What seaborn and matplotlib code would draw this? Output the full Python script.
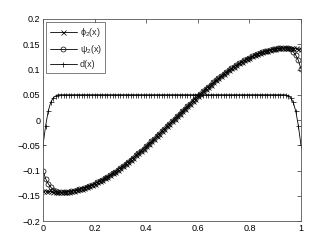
import numpy as np
import matplotlib
matplotlib.use("Agg")
import matplotlib.pyplot as plt
import seaborn as sns

# ---- data ----
x = np.round(np.arange(101) * 0.01, 2)

phi_left = [-0.140, -0.1405, -0.141, -0.1415, -0.142, -0.1425]
mid = [-0.1430, -0.1429, -0.1426, -0.1422, -0.1416, -0.1408, -0.1398, -0.1387, -0.1373, -0.1358,
       -0.1342, -0.1324, -0.1304, -0.1282, -0.1259, -0.1234, -0.1208, -0.1180, -0.1151, -0.1120,
       -0.1088, -0.1055, -0.1020, -0.0984, -0.0947, -0.0908, -0.0869, -0.0828, -0.0786, -0.0744,
       -0.0701, -0.0656, -0.0611, -0.0565, -0.0518, -0.0471, -0.0423, -0.0375, -0.0326, -0.0276,
       -0.0227, -0.0177, -0.0127, -0.0076, -0.0026, 0.0025, 0.0076, 0.0127, 0.0177, 0.0227,
       0.0276, 0.0326, 0.0375, 0.0423, 0.0471, 0.0518, 0.0565, 0.0611, 0.0656, 0.0701,
       0.0744, 0.0786, 0.0828, 0.0869, 0.0908, 0.0947, 0.0984, 0.1020, 0.1055, 0.1088,
       0.1120, 0.1151, 0.1180, 0.1208, 0.1234, 0.1259, 0.1282, 0.1304, 0.1324, 0.1342,
       0.1358, 0.1373, 0.1387, 0.1398, 0.1408, 0.1416, 0.1422, 0.1426, 0.1429, 0.1430]
phi_right = [0.1428, 0.1424, 0.1418, 0.1410, 0.1400]
phi = phi_left + mid + phi_right

psi_left = [-0.100, -0.116, -0.126, -0.133, -0.138, -0.141]
psi_right = [0.1410, 0.135, 0.128, 0.118, 0.101]
psi = psi_left + mid + psi_right

d_left = [-0.05, -0.012, 0.017, 0.035, 0.044, 0.048]
d_flat = [0.05] * 89
d_right = [0.048, 0.044, 0.035, 0.017, -0.012, -0.05]
d = d_left + d_flat + d_right

labels = ["ϕ$_2$(x)", "ψ$_2$(x)", "d(x)"]
xticks = [0, 0.2, 0.4, 0.6, 0.8, 1]
xticklabels = ["0", "0.2", "0.4", "0.6", "0.8", "1"]
yticks = [-0.2, -0.15, -0.1, -0.05, 0, 0.05, 0.1, 0.15, 0.2]
yticklabels = ["\u22120.2", "\u22120.15", "\u22120.1", "\u22120.05", "0", "0.05", "0.1", "0.15", "0.2"]

# ---- style ----
sns.set_style("white")
plt.rcParams['font.family'] = ['Liberation Sans', 'DejaVu Sans']
plt.rcParams['mathtext.fontset'] = 'custom'
plt.rcParams['mathtext.rm'] = 'Liberation Sans'
plt.rcParams['mathtext.it'] = 'Liberation Sans'

fig = plt.figure(figsize=(3.32, 2.49), dpi=100)
ax = fig.add_axes([0.1295, 0.1124, 0.9066 - 0.1295, 0.9237 - 0.1124])

common = dict(color='black', linewidth=0.6, markersize=3.6, markeredgewidth=0.5,
              markeredgecolor='black')
sns.lineplot(x=x, y=phi, ax=ax, marker='x', label=labels[0], **common)
sns.lineplot(x=x, y=psi, ax=ax, marker='o', markerfacecolor='none',
             label=labels[1], **common)
sns.lineplot(x=x, y=d, ax=ax, marker='+', label=labels[2], **common)

ax.set_xlim(0, 1)
ax.set_ylim(-0.2, 0.2)
ax.set_xticks(xticks)
ax.set_xticklabels(xticklabels)
ax.set_yticks(yticks)
ax.set_yticklabels(yticklabels)
ax.tick_params(direction='in', length=3, width=0.5, labelsize=6.5, top=True, right=True,
               colors='#333333', labelcolor='black', pad=2)
for s in ax.spines.values():
    s.set_linewidth(0.6)
    s.set_color('#555555')
    s.set_visible(True)

leg = ax.legend(loc='upper left', fontsize=6.5, frameon=True, fancybox=False,
                edgecolor='#444444', borderpad=0.4, labelspacing=0.45,
                handlelength=3.0, handletextpad=0.3, borderaxespad=0.35)
leg.get_frame().set_linewidth(0.6)

fig.savefig("out.png", dpi=100)
